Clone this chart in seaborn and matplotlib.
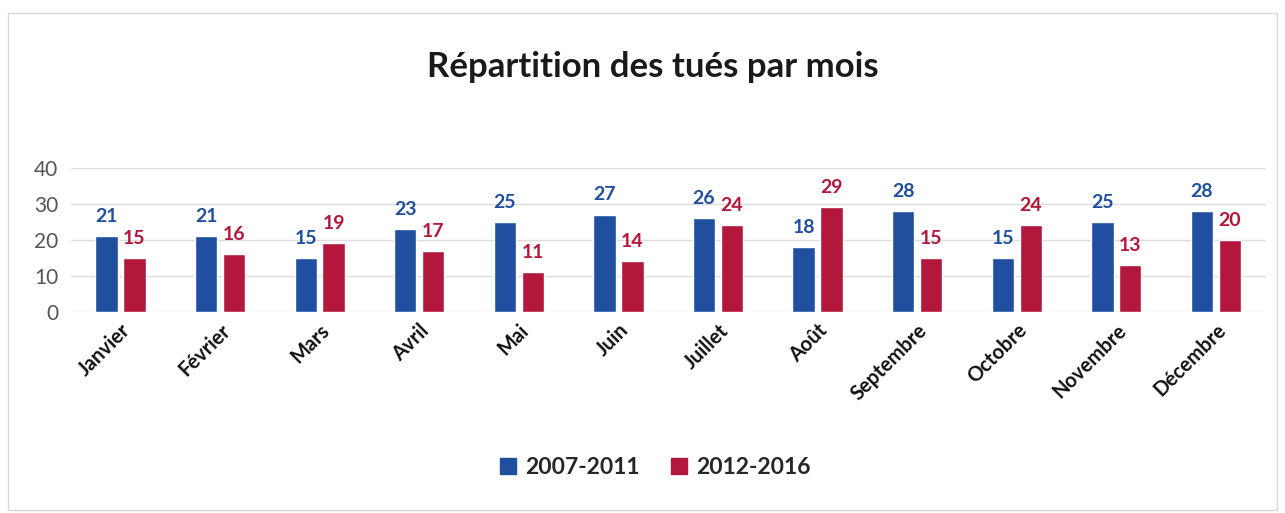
import pandas as pd
import seaborn as sns
import matplotlib.pyplot as plt
from matplotlib.patches import Rectangle

months = ["Janvier", "Février", "Mars", "Avril", "Mai", "Juin", "Juillet",
          "Août", "Septembre", "Octobre", "Novembre", "Décembre"]
periods = ["2007-2011", "2012-2016"]
vals_2007_2011 = [21, 21, 15, 23, 25, 27, 26, 18, 28, 15, 25, 28]
vals_2012_2016 = [15, 16, 19, 17, 11, 14, 24, 29, 15, 24, 13, 20]
colors = ["#1f4f9e", "#b3173b"]

df = pd.DataFrame({
    "mois": months * 2,
    "periode": [periods[0]] * 12 + [periods[1]] * 12,
    "tues": vals_2007_2011 + vals_2012_2016,
})

sns.set_style("white")
plt.rcParams["font.family"] = ["Lato", "DejaVu Sans"]

fig = plt.figure(figsize=(12.85, 5.13), dpi=100)
ax = fig.add_axes([0.055, 0.392, 0.93, 0.281])

sns.barplot(data=df, x="mois", y="tues", hue="periode", palette=colors,
            width=0.56, gap=0.2, ax=ax, saturation=1, legend=False)

for cont, c in zip(ax.containers, colors):
    ax.bar_label(cont, padding=8, color=c, fontsize=14, fontweight="bold")

ax.set_ylim(0, 40)
ax.set_yticks([0, 10, 20, 30, 40])
ax.set_xlim(-0.5, 11.5)
ax.yaxis.grid(True, color="#dcdcdc", linewidth=1)
ax.set_axisbelow(True)
sns.despine(ax=ax, left=True, bottom=True)
ax.set_xlabel("")
ax.set_ylabel("")
ax.tick_params(axis="y", labelsize=15, colors="#555555", length=0, pad=9)
ax.tick_params(axis="x", length=0, pad=6)
plt.setp(ax.get_xticklabels(), rotation=45, ha="right", rotation_mode="anchor",
         fontsize=14.5, fontweight="bold", color="#111111")

fig.suptitle("Répartition des tués par mois", x=0.508, y=0.90,
             fontsize=25, fontweight="bold", color="#1a1a1a")

handles = [Rectangle((0, 0), 1, 1, color=c) for c in colors]
leg = fig.legend(handles, periods, loc="center", bbox_to_anchor=(0.51, 0.088),
                 ncol=2, frameon=False, handlelength=0.7, handleheight=0.7,
                 handletextpad=0.4, columnspacing=1.4,
                 prop={"size": 16.5, "weight": "bold"})

fig.patches.append(Rectangle((0.006, 0.005), 0.988, 0.97, transform=fig.transFigure,
                             fill=False, edgecolor="#d8d8d8", linewidth=1))

fig.savefig("out.png", dpi=100)
